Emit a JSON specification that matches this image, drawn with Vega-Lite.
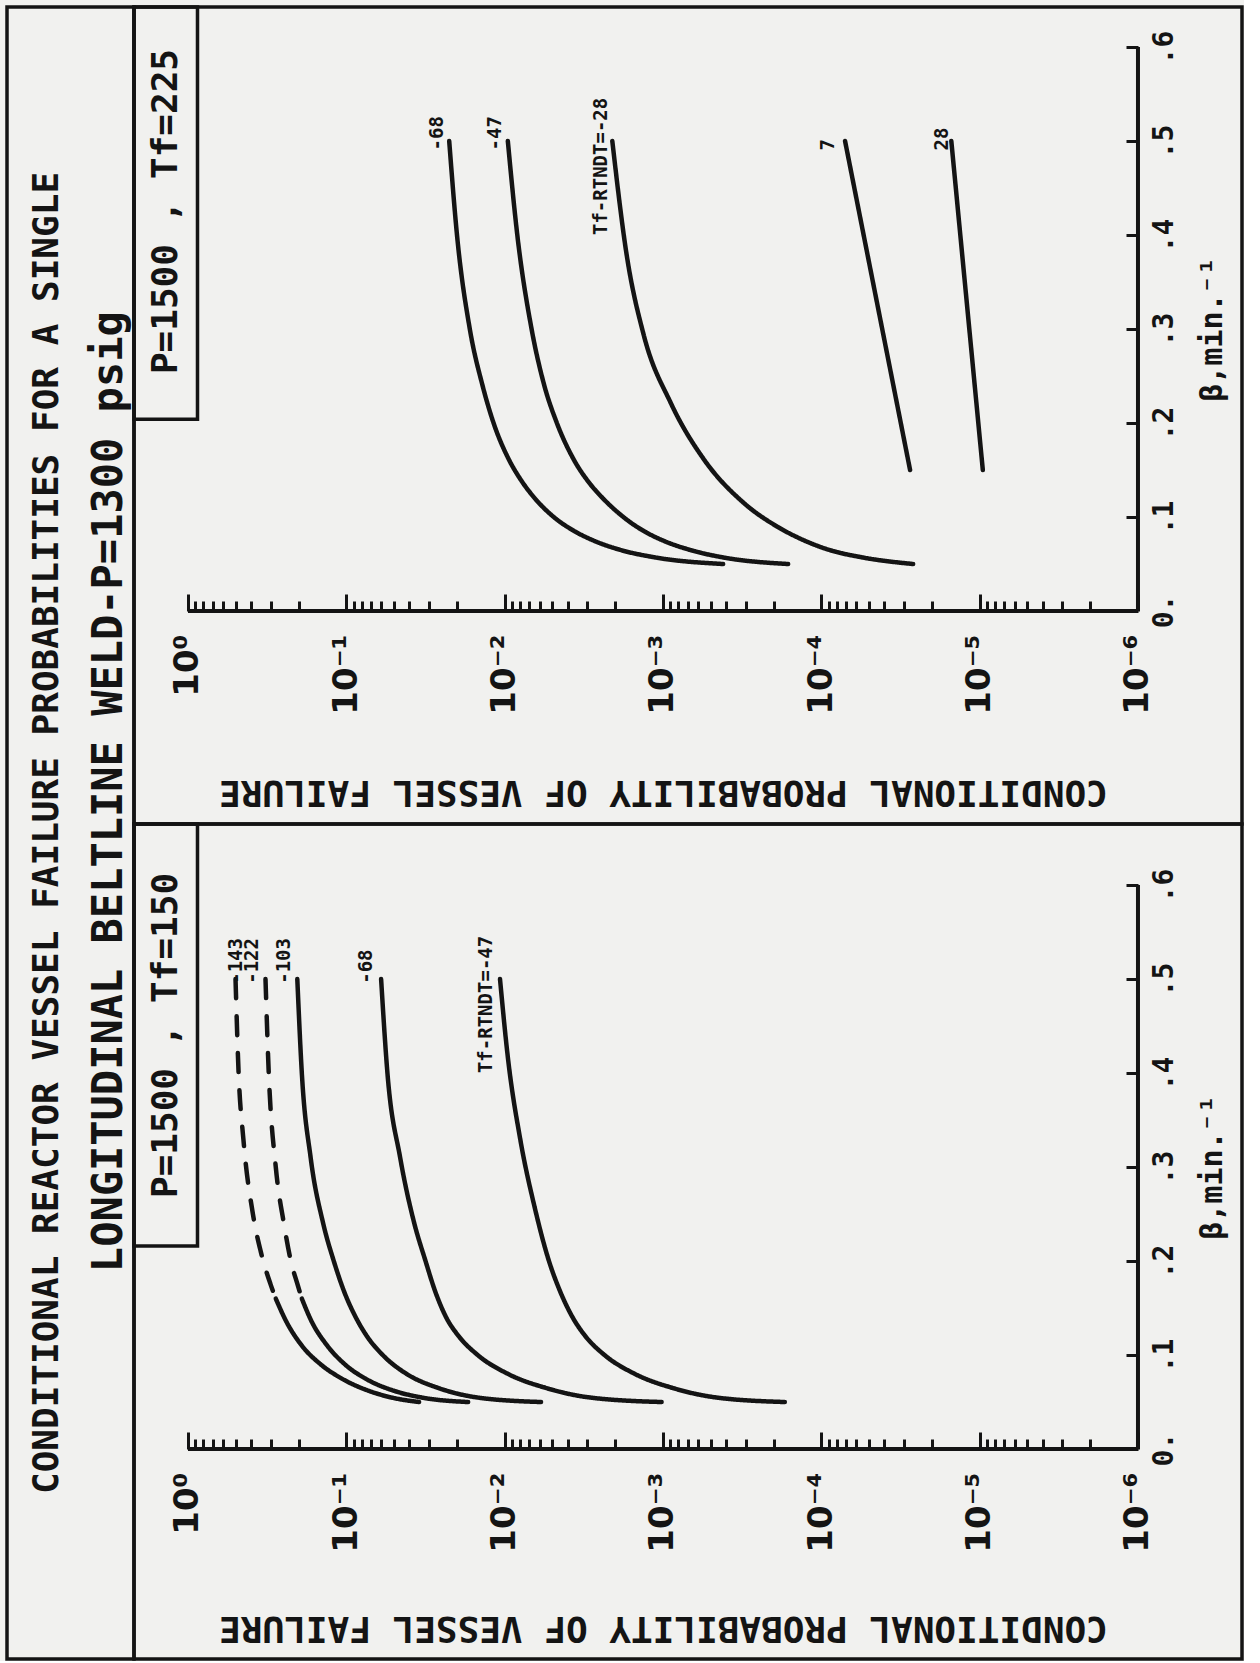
{
  "$schema": "https://vega.github.io/schema/vega-lite/v6.json",
  "background": "#f1f1ef",
  "padding": {"left": 5, "top": 3, "right": 0, "bottom": 0},
  "spacing": 0,
  "bounds": "flush",
  "config": {
    "view": {"stroke": "#141414", "strokeWidth": 3.5},
    "concat": {"spacing": 0},
    "axis": {"grid": false},
    "font": "DejaVu Sans Mono"
  },
  "hconcat": [
    {
      "width": 127,
      "height": 1652,
      "layer": [
        {
          "data": {"values": [{"line": 1, "text": "CONDITIONAL REACTOR VESSEL FAILURE PROBABILITIES FOR A SINGLE"}]},
          "mark": {"type": "text", "angle": 270, "align": "center", "baseline": "middle", "font": "DejaVu Sans Mono", "fontWeight": "bold", "fontSize": 36, "color": "#141414"},
          "encoding": {
            "x": {"field": "line", "type": "quantitative", "scale": {"domain": [0.35, 2.41], "nice": false, "zero": false}, "axis": null},
            "y": {"datum": 0, "type": "quantitative", "scale": {"domain": [-1, 1], "nice": false}, "axis": null},
            "text": {"field": "text"}
          }
        },
        {
          "data": {"values": [{"line": 2, "text": "LONGITUDINAL BELTLINE WELD-P=1300 psig"}]},
          "mark": {"type": "text", "angle": 270, "align": "center", "baseline": "middle", "font": "DejaVu Sans Mono", "fontWeight": "bold", "fontSize": 42, "color": "#141414"},
          "encoding": {
            "x": {"field": "line", "type": "quantitative", "scale": {"domain": [0.35, 2.41], "nice": false, "zero": false}, "axis": null},
            "y": {"datum": 0.05, "type": "quantitative", "scale": {"domain": [-1, 1], "nice": false}, "axis": null},
            "text": {"field": "text"}
          }
        }
      ]
    },
    {
      "spacing": 0,
      "bounds": "flush",
      "vconcat": [
        {
          "width": 1108,
          "height": 817,
          "layer": [
            {
              "data": {"values": [
                {"id": "A", "s": "solid", "beta": 0.5, "p": 0.0224},
                {"id": "A", "s": "solid", "beta": 0.4, "p": 0.02},
                {"id": "A", "s": "solid", "beta": 0.3, "p": 0.0166},
                {"id": "A", "s": "solid", "beta": 0.24, "p": 0.0138},
                {"id": "A", "s": "solid", "beta": 0.2, "p": 0.01175},
                {"id": "A", "s": "solid", "beta": 0.16, "p": 0.00933},
                {"id": "A", "s": "solid", "beta": 0.14, "p": 0.00794},
                {"id": "A", "s": "solid", "beta": 0.12, "p": 0.00646},
                {"id": "A", "s": "solid", "beta": 0.1, "p": 0.0049},
                {"id": "A", "s": "solid", "beta": 0.085, "p": 0.00363},
                {"id": "A", "s": "solid", "beta": 0.075, "p": 0.00275},
                {"id": "A", "s": "solid", "beta": 0.065, "p": 0.00186},
                {"id": "A", "s": "solid", "beta": 0.057, "p": 0.00112},
                {"id": "A", "s": "solid", "beta": 0.05, "p": 0.000417},
                {"id": "B", "s": "solid", "beta": 0.5, "p": 0.00955},
                {"id": "B", "s": "solid", "beta": 0.4, "p": 0.00832},
                {"id": "B", "s": "solid", "beta": 0.3, "p": 0.00676},
                {"id": "B", "s": "solid", "beta": 0.24, "p": 0.00562},
                {"id": "B", "s": "solid", "beta": 0.2, "p": 0.00468},
                {"id": "B", "s": "solid", "beta": 0.16, "p": 0.00363},
                {"id": "B", "s": "solid", "beta": 0.135, "p": 0.00288},
                {"id": "B", "s": "solid", "beta": 0.12, "p": 0.0024},
                {"id": "B", "s": "solid", "beta": 0.1, "p": 0.00178},
                {"id": "B", "s": "solid", "beta": 0.085, "p": 0.00132},
                {"id": "B", "s": "solid", "beta": 0.075, "p": 0.001},
                {"id": "B", "s": "solid", "beta": 0.065, "p": 0.000676},
                {"id": "B", "s": "solid", "beta": 0.057, "p": 0.000417},
                {"id": "B", "s": "solid", "beta": 0.05, "p": 0.000162},
                {"id": "C", "s": "solid", "beta": 0.5, "p": 0.00209},
                {"id": "C", "s": "solid", "beta": 0.38, "p": 0.0017},
                {"id": "C", "s": "solid", "beta": 0.293, "p": 0.00132},
                {"id": "C", "s": "solid", "beta": 0.221, "p": 0.000891},
                {"id": "C", "s": "solid", "beta": 0.161, "p": 0.00055},
                {"id": "C", "s": "solid", "beta": 0.115, "p": 0.000309},
                {"id": "C", "s": "solid", "beta": 0.09, "p": 0.000191},
                {"id": "C", "s": "solid", "beta": 0.076, "p": 0.000132},
                {"id": "C", "s": "solid", "beta": 0.065, "p": 0.0000891},
                {"id": "C", "s": "solid", "beta": 0.057, "p": 0.000055},
                {"id": "C", "s": "solid", "beta": 0.05, "p": 0.0000263},
                {"id": "D", "s": "solid", "beta": 0.15, "p": 0.0000275},
                {"id": "D", "s": "solid", "beta": 0.5, "p": 0.0000708},
                {"id": "E", "s": "solid", "beta": 0.15, "p": 0.00000955},
                {"id": "E", "s": "solid", "beta": 0.5, "p": 0.0000151}
              ]},
              "mark": {"type": "line", "color": "#141414", "strokeWidth": 4.5, "strokeCap": "round", "interpolate": "monotone"},
              "encoding": {
                "x": {
                  "field": "p", "type": "quantitative",
                  "scale": {"type": "log", "domain": [2.203e-7, 2.193], "reverse": true, "nice": false},
                  "axis": {
                    "orient": "bottom", "offset": -213, "domain": false, "grid": false,
                    "values": [1, 0.9, 0.8, 0.7, 0.6, 0.5, 0.4, 0.3, 0.2, 0.1, 0.09, 0.08, 0.07, 0.06, 0.05, 0.04, 0.03, 0.02, 0.01, 0.009, 0.008, 0.007, 0.006, 0.005, 0.004, 0.003, 0.002, 0.001, 0.0009, 0.0008, 0.0007, 0.0006, 0.0005, 0.0004, 0.0003, 0.0002, 0.0001, 0.00009, 0.00008, 0.00007, 0.00006, 0.00005, 0.00004, 0.00003, 0.00002, 0.00001, 0.000009, 0.000008, 0.000007, 0.000006, 0.000005, 0.000004, 0.000003, 0.000002, 0.000001],
                    "labelExpr": "abs(log(datum.value)/LN10 - round(log(datum.value)/LN10)) < 0.01 ? ['10⁰','10⁻¹','10⁻²','10⁻³','10⁻⁴','10⁻⁵','10⁻⁶'][-round(log(datum.value)/LN10)] : ''",
                    "labelAngle": 270, "labelAlign": "right", "labelBaseline": "middle",
                    "labelFont": "DejaVu Sans", "labelFontWeight": "bold", "labelFontSize": 34, "labelColor": "#141414",
                    "labelPadding": 40, "labelOverlap": false, "labelFlush": false, "labelBound": false,
                    "tickSize": {"condition": {"test": "abs(log(datum.value)/LN10 - round(log(datum.value)/LN10)) < 0.01", "value": -17}, "value": -10},
                    "tickWidth": 3, "tickColor": "#141414",
                    "title": "CONDITIONAL PROBABILITY OF VESSEL FAILURE",
                    "titleAngle": 180, "titleAlign": "center", "titleBaseline": "middle", "titleX": 529, "titleY": 180,
                    "titleFont": "DejaVu Sans Mono", "titleFontWeight": "bold", "titleFontSize": 36, "titleColor": "#141414"
                  }
                },
                "y": {
                  "field": "beta", "type": "quantitative",
                  "scale": {"domain": [-0.2266, 0.6426], "nice": false, "zero": false},
                  "axis": {
                    "orient": "right", "offset": -104, "domain": false, "grid": false,
                    "values": [0, 0.1, 0.2, 0.3, 0.4, 0.5, 0.6],
                    "labelExpr": "datum.value < 0.05 ? '0.' : replace(format(datum.value, '.1f'), '0.', '.')",
                    "labelAngle": 270, "labelAlign": "center", "labelBaseline": "top",
                    "labelFont": "DejaVu Sans Mono", "labelFontWeight": "bold", "labelFontSize": 28, "labelColor": "#141414",
                    "labelPadding": 24, "labelOverlap": false, "labelFlush": false, "labelBound": false,
                    "tickSize": -12, "tickWidth": 3, "tickColor": "#141414",
                    "title": "β,min.⁻¹",
                    "titleAngle": 270, "titleAlign": "center", "titleBaseline": "middle", "titleX": 74, "titleY": 322,
                    "titleFont": "DejaVu Sans Mono", "titleFontWeight": "bold", "titleFontSize": 30, "titleColor": "#141414"
                  }
                },
                "detail": {"field": "id"},
                "order": {"field": "beta", "sort": "descending"},
                "strokeDash": {"field": "s", "type": "nominal", "scale": {"domain": ["solid", "dashed"], "range": [[1, 0], [19, 18]]}, "legend": null}
              }
            },
            {
              "data": {"values": [
                {"label": "-68", "beta": 0.49, "p": 0.0269},
                {"label": "-47", "beta": 0.49, "p": 0.01148},
                {"label": "Tf-RTNDT=-28", "beta": 0.40, "p": 0.00245},
                {"label": "7", "beta": 0.49, "p": 0.0000912},
                {"label": "28", "beta": 0.49, "p": 0.0000174}
              ]},
              "mark": {"type": "text", "angle": 270, "align": "left", "baseline": "middle", "font": "DejaVu Sans Mono", "fontWeight": "bold", "fontSize": 19, "color": "#141414"},
              "encoding": {
                "x": {"field": "p", "type": "quantitative", "scale": {"type": "log", "domain": [2.203e-7, 2.193], "reverse": true, "nice": false}},
                "y": {"field": "beta", "type": "quantitative", "scale": {"domain": [-0.2266, 0.6426], "nice": false, "zero": false}},
                "text": {"field": "label"}
              }
            },
            {
              "data": {"values": [{}]},
              "mark": {"type": "rule", "color": "#141414", "strokeWidth": 4},
              "encoding": {
                "x": {"datum": 1, "type": "quantitative", "scale": {"type": "log", "domain": [2.203e-7, 2.193], "reverse": true, "nice": false}},
                "x2": {"datum": 0.000001},
                "y": {"datum": 0, "type": "quantitative", "scale": {"domain": [-0.2266, 0.6426], "nice": false, "zero": false}}
              }
            },
            {
              "data": {"values": [{}]},
              "mark": {"type": "rule", "color": "#141414", "strokeWidth": 4},
              "encoding": {
                "x": {"datum": 0.000001, "type": "quantitative", "scale": {"type": "log", "domain": [2.203e-7, 2.193], "reverse": true, "nice": false}},
                "y": {"datum": 0, "type": "quantitative", "scale": {"domain": [-0.2266, 0.6426], "nice": false, "zero": false}},
                "y2": {"datum": 0.6}
              }
            },
            {
              "data": {"values": [{}]},
              "mark": {"type": "rect", "fill": "transparent", "stroke": "#141414", "strokeWidth": 3.5},
              "encoding": {
                "x": {"datum": 0.871, "type": "quantitative", "scale": {"type": "log", "domain": [2.203e-7, 2.193], "reverse": true, "nice": false}},
                "x2": {"datum": 2.193},
                "y": {"datum": 0.204, "type": "quantitative", "scale": {"domain": [-0.2266, 0.6426], "nice": false, "zero": false}},
                "y2": {"datum": 0.6426}
              }
            },
            {
              "data": {"values": [{}]},
              "mark": {"type": "text", "angle": 270, "align": "center", "baseline": "middle", "font": "DejaVu Sans Mono", "fontWeight": "bold", "fontSize": 36, "color": "#141414"},
              "encoding": {
                "x": {"datum": 1.38, "type": "quantitative", "scale": {"type": "log", "domain": [2.203e-7, 2.193], "reverse": true, "nice": false}},
                "y": {"datum": 0.425, "type": "quantitative", "scale": {"domain": [-0.2266, 0.6426], "nice": false, "zero": false}},
                "text": {"value": "P=1500 , Tf=225"}
              }
            }
          ]
        },
        {
          "width": 1108,
          "height": 835,
          "layer": [
            {
              "data": {"values": [
                {"id": "d1a", "s": "dashed", "beta": 0.5, "p": 0.501},
                {"id": "d1a", "s": "dashed", "beta": 0.4, "p": 0.479},
                {"id": "d1a", "s": "dashed", "beta": 0.33, "p": 0.447},
                {"id": "d1a", "s": "dashed", "beta": 0.25, "p": 0.389},
                {"id": "d1a", "s": "dashed", "beta": 0.21, "p": 0.347},
                {"id": "d1a", "s": "dashed", "beta": 0.176, "p": 0.302},
                {"id": "d1a", "s": "dashed", "beta": 0.16, "p": 0.279},
                {"id": "d1b", "s": "solid", "beta": 0.16, "p": 0.279},
                {"id": "d1b", "s": "solid", "beta": 0.136, "p": 0.24},
                {"id": "d1b", "s": "solid", "beta": 0.11, "p": 0.191},
                {"id": "d1b", "s": "solid", "beta": 0.09, "p": 0.145},
                {"id": "d1b", "s": "solid", "beta": 0.075, "p": 0.107},
                {"id": "d1b", "s": "solid", "beta": 0.062, "p": 0.0724},
                {"id": "d1b", "s": "solid", "beta": 0.055, "p": 0.0525},
                {"id": "d1b", "s": "solid", "beta": 0.05, "p": 0.0347},
                {"id": "d2a", "s": "dashed", "beta": 0.5, "p": 0.324},
                {"id": "d2a", "s": "dashed", "beta": 0.4, "p": 0.309},
                {"id": "d2a", "s": "dashed", "beta": 0.3, "p": 0.279},
                {"id": "d2a", "s": "dashed", "beta": 0.24, "p": 0.248},
                {"id": "d2a", "s": "dashed", "beta": 0.2, "p": 0.224},
                {"id": "d2a", "s": "dashed", "beta": 0.176, "p": 0.204},
                {"id": "d2a", "s": "dashed", "beta": 0.16, "p": 0.191},
                {"id": "d2b", "s": "solid", "beta": 0.16, "p": 0.191},
                {"id": "d2b", "s": "solid", "beta": 0.136, "p": 0.166},
                {"id": "d2b", "s": "solid", "beta": 0.11, "p": 0.132},
                {"id": "d2b", "s": "solid", "beta": 0.09, "p": 0.102},
                {"id": "d2b", "s": "solid", "beta": 0.075, "p": 0.0759},
                {"id": "d2b", "s": "solid", "beta": 0.062, "p": 0.0501},
                {"id": "d2b", "s": "solid", "beta": 0.055, "p": 0.0339},
                {"id": "d2b", "s": "solid", "beta": 0.05, "p": 0.017},
                {"id": "s3", "s": "solid", "beta": 0.5, "p": 0.204},
                {"id": "s3", "s": "solid", "beta": 0.4, "p": 0.191},
                {"id": "s3", "s": "solid", "beta": 0.31, "p": 0.168},
                {"id": "s3", "s": "solid", "beta": 0.24, "p": 0.14},
                {"id": "s3", "s": "solid", "beta": 0.2, "p": 0.12},
                {"id": "s3", "s": "solid", "beta": 0.168, "p": 0.1035},
                {"id": "s3", "s": "solid", "beta": 0.14, "p": 0.0871},
                {"id": "s3", "s": "solid", "beta": 0.12, "p": 0.0741},
                {"id": "s3", "s": "solid", "beta": 0.1, "p": 0.0589},
                {"id": "s3", "s": "solid", "beta": 0.08, "p": 0.0417},
                {"id": "s3", "s": "solid", "beta": 0.065, "p": 0.0263},
                {"id": "s3", "s": "solid", "beta": 0.055, "p": 0.0151},
                {"id": "s3", "s": "solid", "beta": 0.05, "p": 0.00589},
                {"id": "s4", "s": "solid", "beta": 0.5, "p": 0.0603},
                {"id": "s4", "s": "solid", "beta": 0.4, "p": 0.055},
                {"id": "s4", "s": "solid", "beta": 0.31, "p": 0.0457},
                {"id": "s4", "s": "solid", "beta": 0.24, "p": 0.0372},
                {"id": "s4", "s": "solid", "beta": 0.2, "p": 0.0316},
                {"id": "s4", "s": "solid", "beta": 0.168, "p": 0.0275},
                {"id": "s4", "s": "solid", "beta": 0.14, "p": 0.0234},
                {"id": "s4", "s": "solid", "beta": 0.12, "p": 0.0195},
                {"id": "s4", "s": "solid", "beta": 0.1, "p": 0.0148},
                {"id": "s4", "s": "solid", "beta": 0.08, "p": 0.00955},
                {"id": "s4", "s": "solid", "beta": 0.065, "p": 0.0055},
                {"id": "s4", "s": "solid", "beta": 0.055, "p": 0.00295},
                {"id": "s4", "s": "solid", "beta": 0.05, "p": 0.00102},
                {"id": "s5", "s": "solid", "beta": 0.5, "p": 0.0107},
                {"id": "s5", "s": "solid", "beta": 0.417, "p": 0.00955},
                {"id": "s5", "s": "solid", "beta": 0.328, "p": 0.00794},
                {"id": "s5", "s": "solid", "beta": 0.257, "p": 0.00646},
                {"id": "s5", "s": "solid", "beta": 0.2, "p": 0.00525},
                {"id": "s5", "s": "solid", "beta": 0.168, "p": 0.00447},
                {"id": "s5", "s": "solid", "beta": 0.14, "p": 0.00372},
                {"id": "s5", "s": "solid", "beta": 0.12, "p": 0.00309},
                {"id": "s5", "s": "solid", "beta": 0.1, "p": 0.00234},
                {"id": "s5", "s": "solid", "beta": 0.08, "p": 0.00151},
                {"id": "s5", "s": "solid", "beta": 0.065, "p": 0.000871},
                {"id": "s5", "s": "solid", "beta": 0.055, "p": 0.000468},
                {"id": "s5", "s": "solid", "beta": 0.05, "p": 0.00017}
              ]},
              "mark": {"type": "line", "color": "#141414", "strokeWidth": 4.5, "strokeCap": "round", "interpolate": "monotone"},
              "encoding": {
                "x": {
                  "field": "p", "type": "quantitative",
                  "scale": {"type": "log", "domain": [2.203e-7, 2.193], "reverse": true, "nice": false},
                  "axis": {
                    "orient": "bottom", "offset": -210, "domain": false, "grid": false,
                    "values": [1, 0.9, 0.8, 0.7, 0.6, 0.5, 0.4, 0.3, 0.2, 0.1, 0.09, 0.08, 0.07, 0.06, 0.05, 0.04, 0.03, 0.02, 0.01, 0.009, 0.008, 0.007, 0.006, 0.005, 0.004, 0.003, 0.002, 0.001, 0.0009, 0.0008, 0.0007, 0.0006, 0.0005, 0.0004, 0.0003, 0.0002, 0.0001, 0.00009, 0.00008, 0.00007, 0.00006, 0.00005, 0.00004, 0.00003, 0.00002, 0.00001, 0.000009, 0.000008, 0.000007, 0.000006, 0.000005, 0.000004, 0.000003, 0.000002, 0.000001],
                    "labelExpr": "abs(log(datum.value)/LN10 - round(log(datum.value)/LN10)) < 0.01 ? ['10⁰','10⁻¹','10⁻²','10⁻³','10⁻⁴','10⁻⁵','10⁻⁶'][-round(log(datum.value)/LN10)] : ''",
                    "labelAngle": 270, "labelAlign": "right", "labelBaseline": "middle",
                    "labelFont": "DejaVu Sans", "labelFontWeight": "bold", "labelFontSize": 34, "labelColor": "#141414",
                    "labelPadding": 40, "labelOverlap": false, "labelFlush": false, "labelBound": false,
                    "tickSize": {"condition": {"test": "abs(log(datum.value)/LN10 - round(log(datum.value)/LN10)) < 0.01", "value": -17}, "value": -10},
                    "tickWidth": 3, "tickColor": "#141414",
                    "title": "CONDITIONAL PROBABILITY OF VESSEL FAILURE",
                    "titleAngle": 180, "titleAlign": "center", "titleBaseline": "middle", "titleX": 529, "titleY": 178,
                    "titleFont": "DejaVu Sans Mono", "titleFontWeight": "bold", "titleFontSize": 36, "titleColor": "#141414"
                  }
                },
                "y": {
                  "field": "beta", "type": "quantitative",
                  "scale": {"domain": [-0.2234, 0.665], "nice": false, "zero": false},
                  "axis": {
                    "orient": "right", "offset": -104, "domain": false, "grid": false,
                    "values": [0, 0.1, 0.2, 0.3, 0.4, 0.5, 0.6],
                    "labelExpr": "datum.value < 0.05 ? '0.' : replace(format(datum.value, '.1f'), '0.', '.')",
                    "labelAngle": 270, "labelAlign": "center", "labelBaseline": "top",
                    "labelFont": "DejaVu Sans Mono", "labelFontWeight": "bold", "labelFontSize": 28, "labelColor": "#141414",
                    "labelPadding": 24, "labelOverlap": false, "labelFlush": false, "labelBound": false,
                    "tickSize": -12, "tickWidth": 3, "tickColor": "#141414",
                    "title": "β,min.⁻¹",
                    "titleAngle": 270, "titleAlign": "center", "titleBaseline": "middle", "titleX": 74, "titleY": 343,
                    "titleFont": "DejaVu Sans Mono", "titleFontWeight": "bold", "titleFontSize": 30, "titleColor": "#141414"
                  }
                },
                "detail": {"field": "id"},
                "order": {"field": "beta", "sort": "descending"},
                "strokeDash": {"field": "s", "type": "nominal", "scale": {"domain": ["solid", "dashed"], "range": [[1, 0], [19, 18]]}, "legend": null}
              }
            },
            {
              "data": {"values": [
                {"label": "-143", "beta": 0.495, "p": 0.5},
                {"label": "-122", "beta": 0.495, "p": 0.393},
                {"label": "-103", "beta": 0.495, "p": 0.248},
                {"label": "-68", "beta": 0.495, "p": 0.075},
                {"label": "Tf-RTNDT=-47", "beta": 0.40, "p": 0.0132}
              ]},
              "mark": {"type": "text", "angle": 270, "align": "left", "baseline": "middle", "font": "DejaVu Sans Mono", "fontWeight": "bold", "fontSize": 19, "color": "#141414"},
              "encoding": {
                "x": {"field": "p", "type": "quantitative", "scale": {"type": "log", "domain": [2.203e-7, 2.193], "reverse": true, "nice": false}},
                "y": {"field": "beta", "type": "quantitative", "scale": {"domain": [-0.2234, 0.665], "nice": false, "zero": false}},
                "text": {"field": "label"}
              }
            },
            {
              "data": {"values": [{}]},
              "mark": {"type": "rule", "color": "#141414", "strokeWidth": 4},
              "encoding": {
                "x": {"datum": 1, "type": "quantitative", "scale": {"type": "log", "domain": [2.203e-7, 2.193], "reverse": true, "nice": false}},
                "x2": {"datum": 0.000001},
                "y": {"datum": 0, "type": "quantitative", "scale": {"domain": [-0.2234, 0.665], "nice": false, "zero": false}}
              }
            },
            {
              "data": {"values": [{}]},
              "mark": {"type": "rule", "color": "#141414", "strokeWidth": 4},
              "encoding": {
                "x": {"datum": 0.000001, "type": "quantitative", "scale": {"type": "log", "domain": [2.203e-7, 2.193], "reverse": true, "nice": false}},
                "y": {"datum": 0, "type": "quantitative", "scale": {"domain": [-0.2234, 0.665], "nice": false, "zero": false}},
                "y2": {"datum": 0.6}
              }
            },
            {
              "data": {"values": [{}]},
              "mark": {"type": "rect", "fill": "transparent", "stroke": "#141414", "strokeWidth": 3.5},
              "encoding": {
                "x": {"datum": 0.871, "type": "quantitative", "scale": {"type": "log", "domain": [2.203e-7, 2.193], "reverse": true, "nice": false}},
                "x2": {"datum": 2.193},
                "y": {"datum": 0.216, "type": "quantitative", "scale": {"domain": [-0.2234, 0.665], "nice": false, "zero": false}},
                "y2": {"datum": 0.665}
              }
            },
            {
              "data": {"values": [{}]},
              "mark": {"type": "text", "angle": 270, "align": "center", "baseline": "middle", "font": "DejaVu Sans Mono", "fontWeight": "bold", "fontSize": 36, "color": "#141414"},
              "encoding": {
                "x": {"datum": 1.38, "type": "quantitative", "scale": {"type": "log", "domain": [2.203e-7, 2.193], "reverse": true, "nice": false}},
                "y": {"datum": 0.44, "type": "quantitative", "scale": {"domain": [-0.2234, 0.665], "nice": false, "zero": false}},
                "text": {"value": "P=1500 , Tf=150"}
              }
            }
          ]
        }
      ]
    }
  ]
}
